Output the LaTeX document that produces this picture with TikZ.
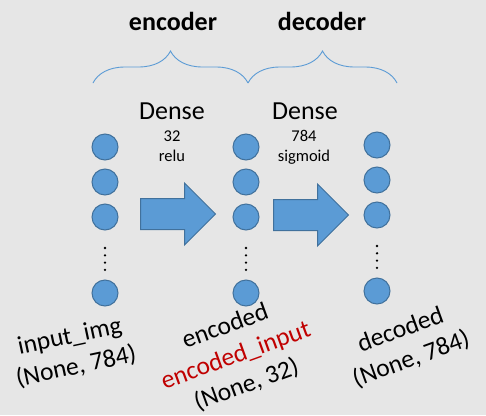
\documentclass[tikz,border=0pt]{standalone}
\usepackage{fontspec}
\setmainfont{Carlito}
\usetikzlibrary{shapes.arrows,decorations.pathreplacing}

\definecolor{bggray}{RGB}{230,230,230}
\definecolor{unitblue}{RGB}{91,155,213}
\definecolor{unitedge}{RGB}{65,113,156}
\definecolor{namered}{RGB}{192,0,0}

\tikzset{
  unit/.style={circle, fill=unitblue, draw=unitedge, line width=1pt,
    minimum size=26pt, inner sep=0pt},
  vdot/.style={circle, fill=black, minimum size=2.6pt, inner sep=0pt},
  layerarrow/.style={single arrow, fill=unitblue, draw=unitedge, line width=1pt,
    minimum height=75pt, single arrow head extend=15.5pt,
    inner xsep=0pt, inner ysep=15pt, anchor=tail},
  bigtext/.style={font=\fontsize{26}{31}\selectfont, inner sep=0pt},
  titletext/.style={font=\fontsize{26}{31}\selectfont\bfseries, inner sep=0pt},
  smalltext/.style={font=\fontsize{16.5}{20}\selectfont, inner sep=0pt},
  shapelabel/.style={font=\fontsize{25.5}{31}\selectfont, align=center, inner sep=0pt},
  sidebrace/.style={draw=unitblue, line width=0.9pt, decorate,
    decoration={brace, amplitude=32pt}}
}

\begin{document}
\begin{tikzpicture}[x=1pt, y=-1pt]
  \fill[bggray] (0,0) rectangle (486,415);
  \useasboundingbox (0,0) rectangle (486,415);

  % the three layers
  \foreach \col/\x/\dy in {a/105/0, b/246/0, c/377/-2} {
    \foreach \row/\y in {1/147, 2/182, 3/217, 4/293}
      \node[unit] (\col\row) at ({\x},{\y+(\dy)}) {};
    \foreach \k in {0,...,3}
      \node[vdot] (\col dot\k) at ({\x},{248+7.3*\k+(\dy)}) {};
  }

  % dense layers between them
  \node[layerarrow] (enc arrow) at (140,214) {};
  \node[layerarrow] (dec arrow) at (273,215) {};

  \node[bigtext, anchor=base] (dense enc) at (172,119) {Dense};
  \node[smalltext, anchor=base] (units enc) at (172,141) {32};
  \node[smalltext, anchor=base] (act enc) at (172,161) {relu};
  \node[bigtext, anchor=base] (dense dec) at (305,119) {Dense};
  \node[smalltext, anchor=base] (units dec) at (304,141) {784};
  \node[smalltext, anchor=base] (act dec) at (304,161) {sigmoid};

  % braces
  \coordinate (brace left) at (93,83);
  \coordinate (brace mid) at (248,83);
  \coordinate (brace right) at (397,83);
  \draw[sidebrace] (brace left) -- (brace mid);
  \draw[sidebrace] (brace mid) -- (brace right);
  \node[titletext, anchor=base] (encoder) at (173,30) {encoder};
  \node[titletext, anchor=base] (decoder) at (322,30) {decoder};

  % tensor names and shapes
  \node[shapelabel, rotate=12] (input img) at (73,352) {input\_img\\(None, 784)};
  \node[shapelabel, rotate=20] (encoded) at (236,356)
    {encoded\\\textcolor{namered}{encoded\_input}\\(None, 32)};
  \node[shapelabel, rotate=20] (decoded) at (406,345) {decoded\\(None, 784)};
\end{tikzpicture}
\end{document}
